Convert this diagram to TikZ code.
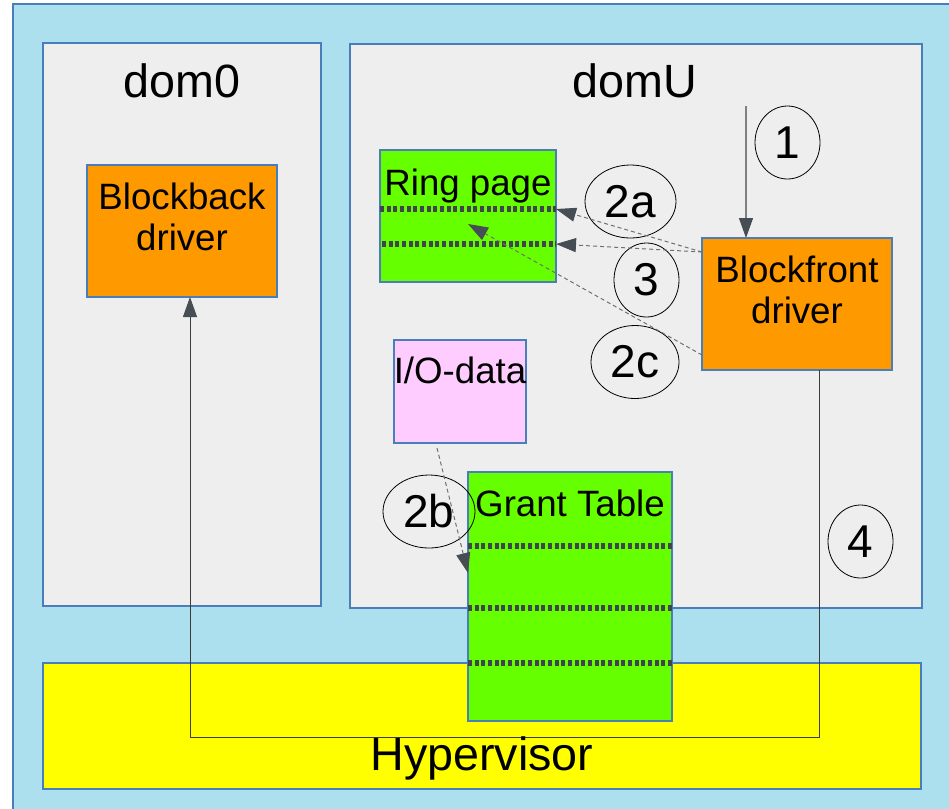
\documentclass[tikz,border=0pt]{standalone}
\usepackage{fontspec}
\setmainfont{Liberation Sans}
\usetikzlibrary{arrows.meta,calc,shapes.geometric}
\definecolor{bgblue}{HTML}{ADE0EE}
\definecolor{domgray}{HTML}{EEEEEE}
\definecolor{edgeblue}{HTML}{4A7EBB}
\definecolor{orangec}{HTML}{FF9900}
\definecolor{greenc}{HTML}{66FF00}
\definecolor{pinkc}{HTML}{FFCCFF}
\definecolor{yellowc}{HTML}{FFFF00}
\definecolor{dotc}{HTML}{40454B}
\definecolor{tipc}{HTML}{474D54}
\definecolor{dashc}{HTML}{707070}
\definecolor{solidc}{HTML}{808080}
\definecolor{connc}{HTML}{3C3C3C}
\begin{document}
\begin{tikzpicture}[x=0.75pt,y=-0.75pt,
  box/.style={rectangle,draw=edgeblue,line width=0.9pt,inner sep=0pt,outer sep=0pt},
  bigtxt/.style={font=\fontsize{35}{42}\selectfont,inner sep=0pt,anchor=base},
  txt/.style={font=\fontsize{27.5}{31}\selectfont,inner sep=0pt,anchor=base},
  num/.style={ellipse,draw=black,line width=0.6pt,inner sep=0pt,font=\fontsize{34.5}{40}\selectfont},
  dotline/.style={draw=dotc,line width=4.5pt,dash pattern=on 3pt off 2pt},
  tipend/.style={-{Triangle[length=15pt,width=10.5pt,color=tipc]}},
  dasharr/.style={tipend,draw=dashc,line width=0.75pt,dash pattern=on 3pt off 2.25pt},
  solidarr/.style={tipend,draw=solidc,line width=0.9pt},
  conn/.style={tipend,draw=connc,line width=0.75pt},
]
\useasboundingbox (0,0) rectangle (949,808);
\clip (0,0) rectangle (949,808);
% background
\path[draw=edgeblue,line width=0.9pt,fill=bgblue] (13,4) rectangle (1000,900);

% domains
\node[box,fill=domgray,minimum width=208.5pt,minimum height=422.25pt] (dom0) at (182,324.5) {};
\node[box,fill=domgray,minimum width=429pt,minimum height=423pt] (domU) at (636,326) {};
\node[box,fill=yellowc,minimum width=658.5pt,minimum height=94.5pt] (hyp) at (482,726) {};

% inner boxes
\node[box,fill=orangec,minimum width=142.5pt,minimum height=99pt] (bb) at (182,231) {};
\node[box,fill=orangec,minimum width=142.5pt,minimum height=99pt] (bf) at (797,304) {};
\node[box,fill=greenc,minimum width=132pt,minimum height=99pt] (ring) at (468,216) {};
\node[box,fill=pinkc,minimum width=99pt,minimum height=77.25pt] (io) at (460,391.5) {};

% connector 4 (blockfront -> hypervisor -> blockback)
\coordinate (c4a) at (819,737);
\coordinate (c4b) at (190,737);
\draw[conn] (bf.south -| c4a) -- (c4a) -- (c4b) -- (c4b |- bb.south);

% grant table
\node[box,fill=greenc,minimum width=153pt,minimum height=186.75pt] (gt) at (570,596.5) {};
\draw[dotline] (468,546) -- (672,546);
\draw[dotline] (468,608) -- (672,608);
\draw[dotline] (468,663) -- (672,663);

% ring page dotted lines
\draw[dotline] (380,209) -- (556,209);
\draw[dotline] (382,244) -- (556,244);

% texts
\node[bigtxt] (t0) at (182,97) {dom0};
\node[bigtxt] (tU) at (635,97) {domU};
\node[bigtxt] (th) at (482,770) {Hypervisor};
\node[txt] (tbb1) at (182,209) {Blockback};
\node[txt] (tbb2) at (182,250) {driver};
\node[txt] (tbf1) at (797,282) {Blockfront};
\node[txt] (tbf2) at (797,323) {driver};
\node[txt] (tring) at (468,195) {Ring page};
\node[txt] (tio) at (460,383) {I/O-data};
\node[txt] (tgt) at (570,516) {Grant Table};

% step labels
\node[num,minimum width=48.75pt,minimum height=54.75pt] (e1) at (787.5,142.5) {1};
\node[num,minimum width=68.25pt,minimum height=54.75pt] (e2a) at (630.5,201.5) {2a};
\node[num,minimum width=48.75pt,minimum height=55.5pt] (e3) at (646.5,280) {3};
\node[num,minimum width=66pt,minimum height=54.75pt] (e2c) at (635,362) {2c};
\node[num,minimum width=69pt,minimum height=54.75pt] (e2b) at (429,511.5) {2b};
\node[num,minimum width=48.75pt,minimum height=54.75pt] (e4) at (860.5,541.5) {4};

% arrows
\coordinate (s1) at (746,106);
\draw[solidarr] (s1) -- (s1 |- bf.north);
\coordinate (f1) at ($(bf.north west)+(0,14)$);
\coordinate (f2) at ($(bf.north west)+(0,117)$);
\draw[dasharr] (f1) -- ($(ring.north east)+(0,59)$);
\draw[dasharr] (f1) -- ($(ring.north east)+(0,94)$);
\draw[dasharr] (f2) -- ($(ring.north)+(0,74)$);
\draw[dasharr] ($(io.south west)+(43,5)$) -- ($(gt.north west)+(0,101)$);
\end{tikzpicture}
\end{document}
